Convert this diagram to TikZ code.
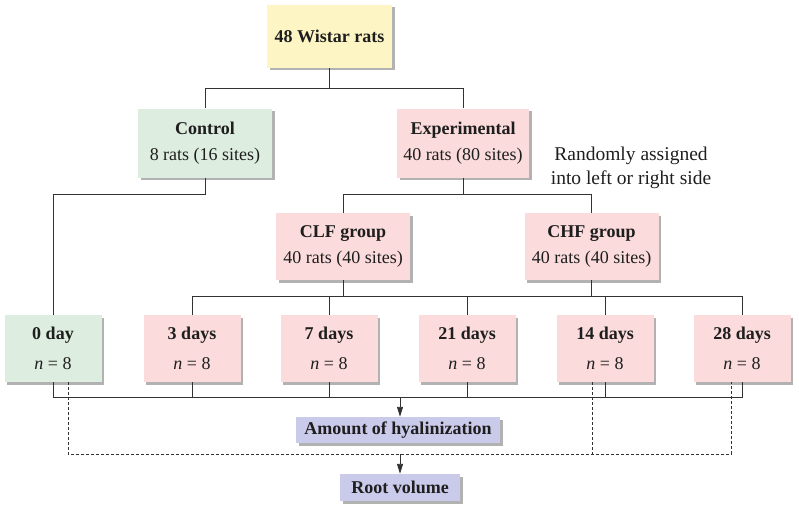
\documentclass[tikz,border=0pt]{standalone}
\usepackage{fontspec}
\setmainfont{Liberation Serif}
\usetikzlibrary{shadows,arrows.meta}
\definecolor{fyellow}{RGB}{253,245,195}
\definecolor{fgreen}{RGB}{221,237,223}
\definecolor{fpink}{RGB}{251,219,219}
\definecolor{flav}{RGB}{202,202,234}
\definecolor{lin}{RGB}{50,50,50}
\definecolor{txt}{RGB}{30,30,30}
\newcommand{\neight}{\textit{n} = 8}
\tikzset{
  x=1pt, y=-1pt,
  box/.style={rectangle, inner sep=0pt, align=center, text=txt,
    font=\fontsize{18}{26.5}\selectfont,
    drop shadow={shadow xshift=2.5pt, shadow yshift=-2.5pt, fill=black, opacity=0.3}},
  bigbox/.style={box, minimum width=134pt, minimum height=69pt},
  daybox/.style={box, fill=fpink, minimum width=97pt, minimum height=67pt, font=\fontsize{18}{30}\selectfont},
  outbox/.style={box, fill=flav, minimum height=26pt, font=\fontsize{18}{20}\selectfont\bfseries},
  conn/.style={draw=lin, line width=0.9pt},
  dconn/.style={draw=lin, line width=0.9pt, dash pattern=on 3pt off 2pt},
  arr/.style={-{Triangle[length=10pt,width=6pt]}}
}
\begin{document}
\begin{tikzpicture}
\useasboundingbox (0,0) rectangle (799,516);
\node[box, fill=fyellow, minimum width=125pt, minimum height=63pt, font=\fontsize{18}{23}\selectfont\bfseries] (top) at (329.5,36.5) {48 Wistar rats};
\node[bigbox, fill=fgreen] (ctrl) at (205,143) {\textbf{Control}\\8 rats (16 sites)};
\node[bigbox, fill=fpink, minimum width=132pt] (exp) at (463,143) {\textbf{Experimental}\\40 rats (80 sites)};
\node[align=center, text=txt, font=\fontsize{19.5}{24.5}\selectfont, inner sep=0pt] (rand) at (631,168) {Randomly assigned\\into left or right side};
\node[bigbox, fill=fpink, minimum height=67pt] (clf) at (343,246.5) {\textbf{CLF group}\\40 rats (40 sites)};
\node[bigbox, fill=fpink, minimum height=67pt] (chf) at (591.5,246.5) {\textbf{CHF group}\\40 rats (40 sites)};
\node[daybox, fill=fgreen] (d0) at (53,348.5) {\textbf{0 day}\\\neight};
\node[daybox] (d3) at (192,348.5) {\textbf{3 days}\\\neight};
\node[daybox] (d7) at (329,348.5) {\textbf{7 days}\\\neight};
\node[daybox] (d21) at (467,348.5) {\textbf{21 days}\\\neight};
\node[daybox] (d14) at (605,348.5) {\textbf{14 days}\\\neight};
\node[daybox] (d28) at (742,348.5) {\textbf{28 days}\\\neight};
\node[outbox, minimum width=204pt] (hya) at (398,430) {Amount of hyalinization};
\node[outbox, minimum width=120pt, minimum height=27pt] (root) at (400,487.5) {Root volume};
% top tree
\draw[conn] (top.south) -- (329.5,88) -| (ctrl.north);
\draw[conn] (329.5,88) -| (exp.north);
\draw[conn] (ctrl.south) -- (205,194) -| (d0.north);
\draw[conn] (exp.south) -- (463,194) -| (clf.north);
\draw[conn] (463,194) -| (chf.north);
\draw[conn] (clf.south) -- (343,296.5);
\draw[conn] (chf.south) -- (591.5,296.5);
\draw[conn] (d3.north) |- (d28.north |- 0,296.5) -- (d28.north);
\draw[conn] (d7.north) -- (d7.north |- 0,296.5);
\draw[conn] (d21.north) -- (d21.north |- 0,296.5);
\draw[conn] (d14.north) -- (d14.north |- 0,296.5);
% bottom solid
\draw[conn] (d0.south) |- (d28.south |- 0,397) -- (d28.south);
\foreach \n in {d3,d7,d21,d14} \draw[conn] (\n.south) -- (\n.south |- 0,397);
\draw[conn, arr] (400,397) -- (hya.north -| 400,0);
% dashed
\coordinate (dA) at (68,382);
\coordinate (dB) at (592,382);
\coordinate (dC) at (731,382);
\draw[dconn] (dA) -- (68,454) -- (731,454) -- (dC);
\draw[dconn] (dB) -- (592,454);
\draw[conn, arr] (400,454) -- (root.north);
\end{tikzpicture}
\end{document}
